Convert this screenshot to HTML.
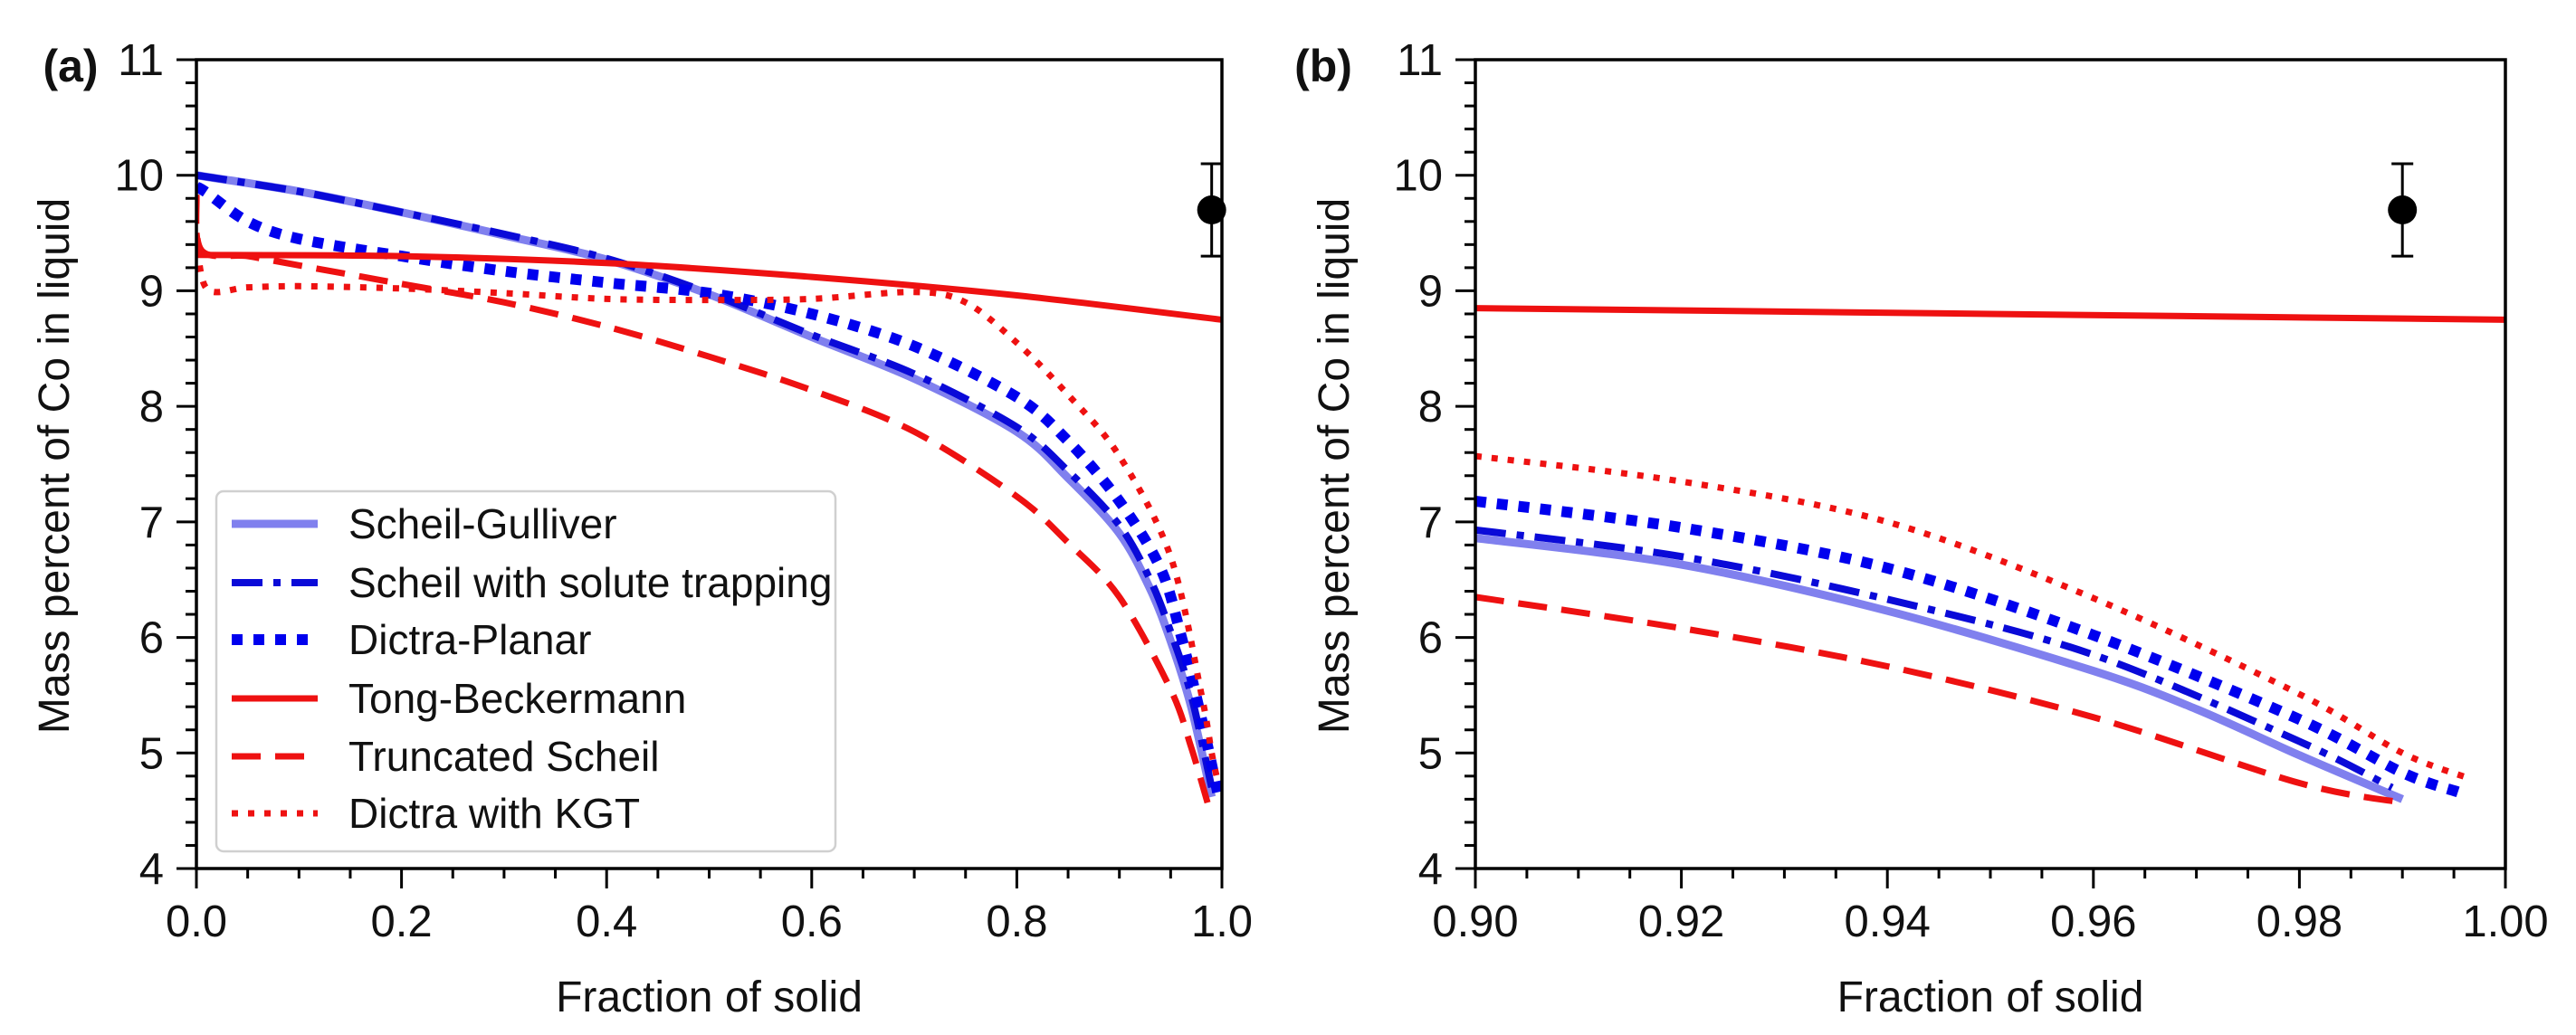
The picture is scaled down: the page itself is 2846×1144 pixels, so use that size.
<!DOCTYPE html>
<html><head><meta charset="utf-8"><style>
html,body{margin:0;padding:0;background:#fff;}
svg{display:block;font-family:"Liberation Sans",Arial,sans-serif;}
</style></head><body>
<svg id="chart" width="2846" height="1144" viewBox="0 0 2846 1144" xmlns="http://www.w3.org/2000/svg">
<defs>
<clipPath id="clipA"><rect x="217" y="66" width="1133" height="894"/></clipPath>
<clipPath id="clipB"><rect x="1630" y="66" width="1138" height="894"/></clipPath>
</defs>
<g id="root"></g>
</svg>
<script>
// ---- Panel (a) data ----
const aSG_x = [0,0.1,0.2,0.3,0.4,0.5,0.6,0.7,0.8,0.85,0.9,0.93,0.95,0.97,0.99];
const aSG_y = [10.0,9.86,9.68,9.48,9.27,8.97,8.6,8.24,7.78,7.38,6.9,6.42,5.97,5.4,4.62];
const aST_x = [0,0.1,0.2,0.3,0.4,0.5,0.6,0.7,0.8,0.85,0.9,0.93,0.95,0.97,0.99];
const aST_y = [10.0,9.86,9.68,9.49,9.28,8.98,8.62,8.28,7.82,7.44,6.97,6.5,6.05,5.5,4.7];
const aDP_x = [0,0.01,0.05,0.1,0.2,0.3,0.4,0.5,0.6,0.7,0.8,0.85,0.9,0.94,0.96,0.98,0.996];
const aDP_y = [9.9,9.85,9.6,9.45,9.3,9.17,9.07,8.98,8.8,8.52,8.08,7.7,7.18,6.6,6.02,5.3,4.65];
const aTB_x = [0,0.2,0.4,0.6,0.8,1.0];
const aTB_y = [9.31,9.3,9.24,9.12,8.96,8.75];
const aTS_x = [0,0.005,0.05,0.1,0.2,0.3,0.4,0.5,0.6,0.7,0.8,0.85,0.9,0.95,0.97,0.986];
const aTS_y = [9.83,9.35,9.3,9.22,9.06,8.9,8.69,8.43,8.14,7.78,7.22,6.82,6.35,5.55,5.05,4.57];
const aKG_x = [0,0.01,0.05,0.1,0.2,0.3,0.4,0.5,0.6,0.7,0.75,0.8,0.85,0.9,0.95,0.98,0.99,0.996];
const aKG_y = [9.5,9.02,9.03,9.04,9.02,8.98,8.93,8.92,8.93,8.99,8.9,8.55,8.1,7.57,6.7,5.51,5.0,4.75];
// ---- Panel (b) data ----
const bSG_x = [0.90,0.92,0.94,0.96,0.97,0.98,0.99];
const bSG_y = [6.86,6.63,6.23,5.71,5.38,4.98,4.6];
const bST_x = [0.90,0.92,0.94,0.96,0.98,0.989];
const bST_y = [6.93,6.7,6.33,5.85,5.1,4.7];
const bDP_x = [0.90,0.92,0.94,0.96,0.98,0.99,0.9955];
const bDP_y = [7.18,6.95,6.6,6.02,5.29,4.83,4.66];
const bTB_x = [0.90,1.0];
const bTB_y = [8.85,8.75];
const bTS_x = [0.90,0.92,0.94,0.96,0.98,0.99];
const bTS_y = [6.35,6.08,5.75,5.31,4.74,4.57];
const bKG_x = [0.90,0.92,0.94,0.96,0.98,0.99,0.9965];
const bKG_y = [7.57,7.35,7.0,6.34,5.51,5.0,4.78];
// experimental point
const ptX = [0.99], ptY = [9.7], ptLo = [9.3], ptHi = [10.1];
const yTicks = [4,5,6,7,8,9,10,11];
const aXTicks = ["0.0","0.2","0.4","0.6","0.8","1.0"];
const bXTicks = ["0.90","0.92","0.94","0.96","0.98","1.00"];
const legendLabels = ["Scheil-Gulliver","Scheil with solute trapping","Dictra-Planar","Tong-Beckermann","Truncated Scheil","Dictra with KGT"];

const NS="http://www.w3.org/2000/svg";
const root=document.getElementById('root');
function mk(tag,attrs,parent){const e=document.createElementNS(NS,tag);for(const k in attrs)e.setAttribute(k,attrs[k]);(parent||root).appendChild(e);return e;}

const styles = {
  SG:{stroke:"#8080ee",w:9,dash:null,cap:"butt"},
  ST:{stroke:"#0a0ad8",w:8,dash:"34 12 8 12",cap:"butt"},
  DP:{stroke:"#0000ee",w:12,dash:"12 12",cap:"butt"},
  TB:{stroke:"#ee1111",w:7,dash:null,cap:"butt"},
  TS:{stroke:"#ee1111",w:7,dash:"32 16",cap:"butt"},
  KG:{stroke:"#ee1111",w:7,dash:"7 11",cap:"butt"}
};

function spline(pts){
  let d="M"+pts[0][0].toFixed(1)+","+pts[0][1].toFixed(1);
  for(let i=0;i<pts.length-1;i++){
    const p0=pts[Math.max(0,i-1)],p1=pts[i],p2=pts[i+1],p3=pts[Math.min(pts.length-1,i+2)];
    const t=0.16;
    const c1=[p1[0]+(p2[0]-p0[0])*t,p1[1]+(p2[1]-p0[1])*t];
    const c2=[p2[0]-(p3[0]-p1[0])*t,p2[1]-(p3[1]-p1[1])*t];
    d+=" C"+c1[0].toFixed(1)+","+c1[1].toFixed(1)+" "+c2[0].toFixed(1)+","+c2[1].toFixed(1)+" "+p2[0].toFixed(1)+","+p2[1].toFixed(1);
  }
  return d;
}

function panel(cfg){
  const {L,R,x0,x1,clip,tag,labels,minorStep,series,panelLabel,plx,ylx}=cfg;
  const T=66,B=960;
  const sx=v=>L+(v-x0)/(x1-x0)*(R-L);
  const sy=v=>B-(v-4)/7*(B-T);
  const g=mk('g',{});
  
  
  const cg=mk('g',{'clip-path':'url(#'+clip+')'},g);
  for(const s of series){
    const st=styles[s.k];
    const pts=s.x.map((v,i)=>[sx(v),sy(s.y[i])]);
    const p=mk('path',{d:spline(pts),fill:'none',stroke:st.stroke,'stroke-width':st.w,'stroke-linecap':st.cap,'stroke-linejoin':'round'},cg);
    if(st.dash)p.setAttribute('stroke-dasharray',st.dash);
    
    
  }
  const pg=mk('g',{},g);
  
  
  const px=sx(ptX[0]);
  mk('line',{x1:px,x2:px,y1:sy(ptLo[0]),y2:sy(ptHi[0]),stroke:'#000','stroke-width':3},pg);
  mk('line',{x1:px-12,x2:px+12,y1:sy(ptLo[0]),y2:sy(ptLo[0]),stroke:'#000','stroke-width':3},pg);
  mk('line',{x1:px-12,x2:px+12,y1:sy(ptHi[0]),y2:sy(ptHi[0]),stroke:'#000','stroke-width':3},pg);
  mk('circle',{cx:px,cy:sy(ptY[0]),r:16,fill:'#000'},pg);
  const fr=mk('rect',{x:L,y:T,width:R-L,height:B-T,fill:'none',stroke:'#000','stroke-width':3.5},g);
  
  
  for(let v=4;v<=11.001;v+=0.2){
    const major=Math.abs(v-Math.round(v))<1e-6;
    mk('line',{x1:L-(major?22:12),x2:L,y1:sy(v),y2:sy(v),stroke:'#000','stroke-width':3},g);
  }
  for(const v of yTicks){
    const t=mk('text',{x:L-36,y:sy(v)+17,'text-anchor':'end','font-size':49,fill:'#111'},g);
    t.textContent=String(v);
    
    
  }
  const n=Math.round((x1-x0)/minorStep);
  for(let i=0;i<=n;i++){
    const v=x0+i*minorStep;const major=i%4===0;
    mk('line',{x1:sx(v),x2:sx(v),y1:B,y2:B+(major?22:11),stroke:'#000','stroke-width':3},g);
  }
  labels.forEach((lab,i)=>{
    const v=x0+i*(x1-x0)/5;
    const t=mk('text',{x:sx(v),y:1035,'text-anchor':'middle','font-size':49,fill:'#111'},g);
    t.textContent=lab;
    
    
  });
  const xt=mk('text',{x:(L+R)/2,y:1118,'text-anchor':'middle','font-size':48,fill:'#111'},g);
  xt.textContent='Fraction of solid';
  
  
  const yt=mk('text',{x:0,y:0,'text-anchor':'middle','font-size':48,fill:'#111',transform:'translate('+(ylx+17)+',515) rotate(-90)'},g);
  yt.textContent='Mass percent of Co in liquid';
  
  
  const pl=mk('text',{x:plx,y:90,'text-anchor':'middle','font-size':50,'font-weight':'bold',fill:'#111'},g);
  pl.textContent=panelLabel;
  
  
}

panel({L:217,R:1350,x0:0,x1:1,clip:'clipA',tag:'a',labels:aXTicks,minorStep:0.05,panelLabel:'(a)',plx:78,ylx:59,
  series:[{k:'SG',name:'scheil-gulliver',x:aSG_x,y:aSG_y},{k:'ST',name:'solute-trapping',x:aST_x,y:aST_y},{k:'DP',name:'dictra-planar',x:aDP_x,y:aDP_y},
          {k:'TB',name:'tong-beckermann',x:aTB_x,y:aTB_y},{k:'TS',name:'truncated-scheil',x:aTS_x,y:aTS_y},{k:'KG',name:'dictra-kgt',x:aKG_x,y:aKG_y}]});
panel({L:1630,R:2768,x0:0.9,x1:1.0,clip:'clipB',tag:'b',labels:bXTicks,minorStep:0.005,panelLabel:'(b)',plx:1462,ylx:1473,
  series:[{k:'SG',name:'scheil-gulliver',x:bSG_x,y:bSG_y},{k:'ST',name:'solute-trapping',x:bST_x,y:bST_y},{k:'DP',name:'dictra-planar',x:bDP_x,y:bDP_y},
          {k:'TB',name:'tong-beckermann',x:bTB_x,y:bTB_y},{k:'TS',name:'truncated-scheil',x:bTS_x,y:bTS_y},{k:'KG',name:'dictra-kgt',x:bKG_x,y:bKG_y}]});

const lg=mk('g',{});


mk('rect',{x:239,y:543,width:684,height:398,rx:8,fill:'#fff','fill-opacity':0.85,stroke:'#d0d0d0','stroke-width':2.5},lg);
const keys=['SG','ST','DP','TB','TS','KG'];
const rowY=[579,644,707,772,836,899];
legendLabels.forEach((lab,i)=>{
  const st=styles[keys[i]];
  const e=mk('g',{},lg);
  
  
  const l=mk('line',{x1:256,x2:351,y1:rowY[i],y2:rowY[i],stroke:st.stroke,'stroke-width':st.w},e);
  if(st.dash)l.setAttribute('stroke-dasharray',st.dash);
  const t=mk('text',{x:385,y:rowY[i]+16,'font-size':46,fill:'#111'},e);
  t.textContent=lab;
});
</script>
</body></html>
